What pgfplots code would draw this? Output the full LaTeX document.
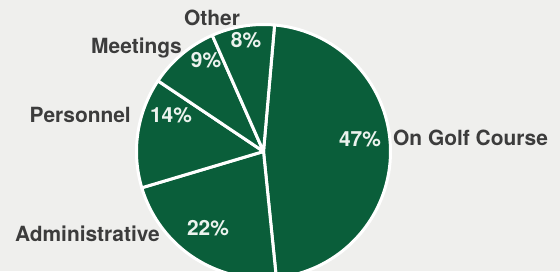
\documentclass[border=0pt]{standalone}
\usepackage{pgfplots}
\pgfplotsset{compat=1.18}
\usepackage{fontspec}
\setmainfont{TeX Gyre Heros}
\definecolor{pgreen}{RGB}{10,94,58}
\definecolor{lbl}{RGB}{60,60,60}
\definecolor{pct}{RGB}{236,243,238}
\definecolor{bg}{RGB}{239,239,237}
% shares in percent
\def\pGolf{47}
\def\pAdmin{22}
\def\pPers{14}
\def\pMeet{9}
\def\pOther{8}
\def\sAng{85}   % start angle (boundary Other / On Golf Course)
\def\cx{263.5}\def\cy{119.5}\def\R{127}
\pgfmathsetmacro{\aA}{\sAng-3.6*\pGolf}
\pgfmathsetmacro{\aB}{\aA-3.6*\pAdmin}
\pgfmathsetmacro{\aC}{\aB-3.6*\pPers}
\pgfmathsetmacro{\aD}{\aC-3.6*\pMeet}
\pgfmathsetmacro{\aE}{\aD-3.6*\pOther}
\begin{document}
\begin{tikzpicture}
\begin{axis}[
  x=1bp, y=1bp,
  xmin=0, xmax=560, ymin=0, ymax=271,
  axis line style={draw=none},
  ticks=none,
  axis background/.style={fill=bg},
  clip=true,
  every axis plot/.append style={fill=pgreen, draw=white, line width=3bp, samples=80, line join=round},
]
\addplot[domain=\aA:\sAng] ({\cx+\R*cos(x)},{\cy+\R*sin(x)}) -- (axis cs:\cx,\cy) -- cycle;
\addplot[domain=\aB:\aA] ({\cx+\R*cos(x)},{\cy+\R*sin(x)}) -- (axis cs:\cx,\cy) -- cycle;
\addplot[domain=\aC:\aB] ({\cx+\R*cos(x)},{\cy+\R*sin(x)}) -- (axis cs:\cx,\cy) -- cycle;
\addplot[domain=\aD:\aC] ({\cx+\R*cos(x)},{\cy+\R*sin(x)}) -- (axis cs:\cx,\cy) -- cycle;
\addplot[domain=\aE:\aD] ({\cx+\R*cos(x)},{\cy+\R*sin(x)}) -- (axis cs:\cx,\cy) -- cycle;
\begin{scope}[every node/.style={font=\fontsize{21}{25}\selectfont\bfseries, inner sep=0pt}]
\node[lbl, anchor=base west] at (axis cs:393,126) {On Golf Course};
\node[lbl, anchor=base east] at (axis cs:160,30) {Administrative};
\node[lbl, anchor=base east] at (axis cs:131,149) {Personnel};
\node[lbl, anchor=base east] at (axis cs:182,217) {Meetings};
\node[lbl, anchor=base] at (axis cs:212,245) {Other};
\node[pct, anchor=base] at (axis cs:360,125) {47\%};
\node[pct, anchor=base] at (axis cs:208,36) {22\%};
\node[pct, anchor=base] at (axis cs:171,149) {14\%};
\node[pct, anchor=base] at (axis cs:206,204) {9\%};
\node[pct, anchor=base] at (axis cs:246,223) {8\%};
\end{scope}
\end{axis}
\end{tikzpicture}
\end{document}
